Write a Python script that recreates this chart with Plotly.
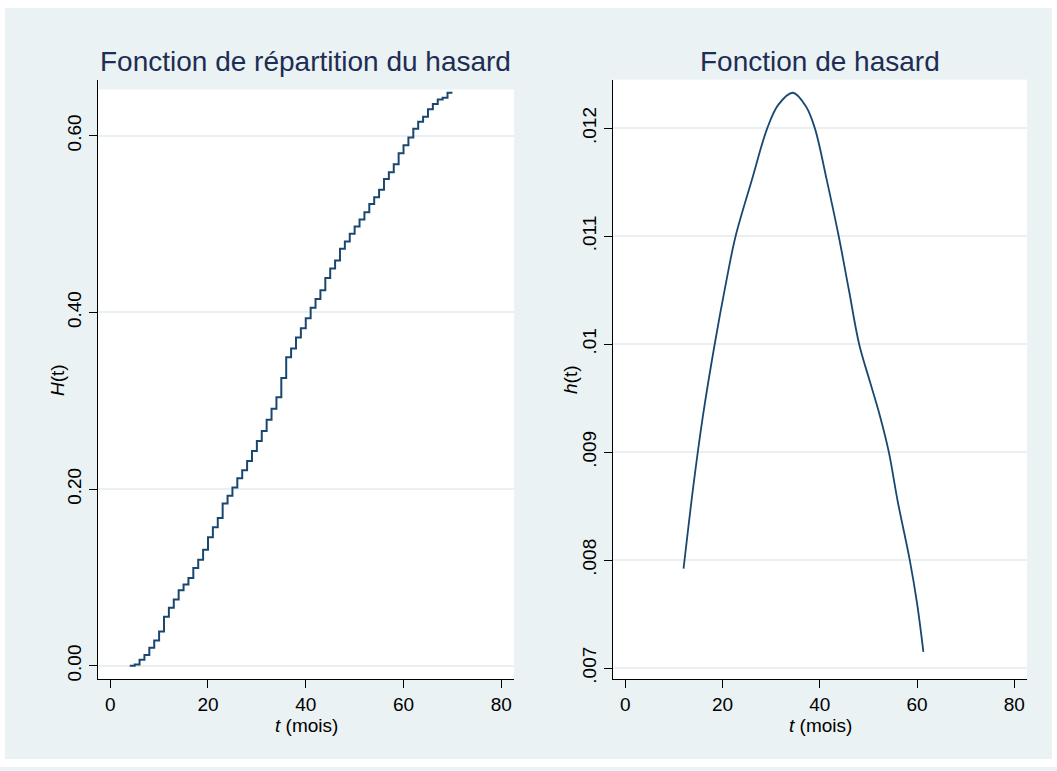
import plotly.graph_objects as go

# ---------------- data ----------------
# Left panel: cumulative hazard H(t), step function with jumps at integer months
months = list(range(4, 71))
H_values = [
    0.0, 0.0015, 0.0068, 0.0124, 0.0206, 0.0288, 0.039, 0.0555, 0.0657, 0.075,
    0.0856, 0.092, 0.0994, 0.1107, 0.12, 0.1313, 0.1456, 0.1569, 0.1674, 0.1839,
    0.1926, 0.2019, 0.2124, 0.2214, 0.232, 0.2432, 0.2545, 0.2658, 0.2785, 0.291,
    0.304, 0.3258, 0.3494, 0.3592, 0.3716, 0.3821, 0.3934, 0.4054, 0.4151, 0.4252,
    0.439, 0.4497, 0.4587, 0.4722, 0.4804, 0.4891, 0.4973, 0.5052, 0.5135, 0.5229,
    0.5304, 0.539, 0.551, 0.5586, 0.5679, 0.5803, 0.5893, 0.598, 0.608, 0.616,
    0.6216, 0.63, 0.636, 0.641, 0.643, 0.6486,
]
H_plot = H_values + [H_values[-1]]  # hold last value until t=70

# Right panel: smoothed hazard h(t)
t_h = [12.0, 14.0, 16.0, 18.4, 20.9, 22.7, 26.1, 29.2, 31.5, 34.5, 37.2,
       39.0, 41.4, 43.9, 46.0, 48.1, 50.4, 52.4, 54.2, 56.0, 58.5, 60.0, 61.3]
h_values = [0.00792, 0.00868, 0.00934, 0.0100, 0.01061, 0.0110, 0.01153, 0.0120,
            0.01222, 0.01233, 0.01220, 0.0120, 0.01153, 0.0110, 0.0105, 0.0100,
            0.00964, 0.00933, 0.0090, 0.00855, 0.0080, 0.0076, 0.00715]

x_ticks = [0, 20, 40, 60, 80]
left_y_ticks = [0.0, 0.2, 0.4, 0.6]
left_y_labels = ["0.00", "0.20", "0.40", "0.60"]
right_y_ticks = [0.007, 0.008, 0.009, 0.010, 0.011, 0.012]
right_y_labels = [".007", ".008", ".009", ".01", ".011", ".012"]

# ---------------- style ----------------
W, H = 1057, 771
BG = "#EAF2F3"
LINE = "#1a476f"
TITLE_C = "#1e2d53"
FONT = "Liberation Sans, Arial, Helvetica, sans-serif"

def px_x(p):
    return p / W

def px_y(p):
    return 1 - p / H

fig = go.Figure()
fig.add_trace(go.Scatter(x=months, y=H_plot, mode="lines", line=dict(color=LINE, width=2, shape="hv"),
                         xaxis="x", yaxis="y", showlegend=False, hoverinfo="skip"))
fig.add_trace(go.Scatter(x=t_h, y=h_values, mode="lines",
                         line=dict(color=LINE, width=1.8, shape="spline", smoothing=1.0),
                         xaxis="x2", yaxis="y2", showlegend=False, hoverinfo="skip"))

common_x = dict(range=[-2.5, 82.6], tickvals=x_ticks, showgrid=False, zeroline=False,
                showline=True, linecolor="black", linewidth=1, ticks="outside", ticklen=8,
                tickwidth=1, tickcolor="black", tickfont=dict(family=FONT, size=19, color="black"))
common_y = dict(showgrid=True, gridcolor="#E8F0F2", gridwidth=1.5, zeroline=False,
                showline=True, linecolor="black", linewidth=1, ticks="outside", ticklen=8,
                tickwidth=1, tickcolor="black", tickangle=-90,
                tickfont=dict(family=FONT, size=19, color="black"))

y_dom = [px_y(683), px_y(80)]
fig.update_layout(
    width=W, height=H,
    margin=dict(l=0, r=0, t=0, b=0, pad=0),
    paper_bgcolor=BG, plot_bgcolor="white",
    font=dict(family=FONT, color="black"),
    xaxis=dict(domain=[px_x(98), px_x(514)], anchor="y", **common_x),
    yaxis=dict(domain=y_dom, anchor="x", range=[-0.0154, 0.6636],
               tickvals=left_y_ticks, ticktext=left_y_labels, **common_y),
    xaxis2=dict(domain=[px_x(613), px_x(1027)], anchor="y2", **common_x),
    yaxis2=dict(domain=y_dom, anchor="x2", range=[0.006894, 0.012452],
                tickvals=right_y_ticks, ticktext=right_y_labels, **common_y),
)

ann = []
ann.append(dict(text="Fonction de répartition du hasard", x=px_x(305), y=px_y(62), xref="paper", yref="paper",
                showarrow=False, font=dict(family=FONT, size=28, color=TITLE_C), xanchor="center", yanchor="middle"))
ann.append(dict(text="Fonction de hasard", x=px_x(820), y=px_y(62), xref="paper", yref="paper",
                showarrow=False, font=dict(family=FONT, size=28, color=TITLE_C), xanchor="center", yanchor="middle"))
ann.append(dict(text="<i>t</i> (mois)", x=px_x(306), y=px_y(729), xref="paper", yref="paper",
                showarrow=False, font=dict(family=FONT, size=19, color="black"), xanchor="center", yanchor="middle"))
ann.append(dict(text="<i>t</i> (mois)", x=px_x(820), y=px_y(729), xref="paper", yref="paper",
                showarrow=False, font=dict(family=FONT, size=19, color="black"), xanchor="center", yanchor="middle"))
ann.append(dict(text="<i>H</i>(t)", x=px_x(57), y=px_y(382), xref="paper", yref="paper", textangle=-90,
                showarrow=False, font=dict(family=FONT, size=19, color="black"), xanchor="center", yanchor="middle"))
ann.append(dict(text="<i>h</i>(t)", x=px_x(570), y=px_y(382), xref="paper", yref="paper", textangle=-90,
                showarrow=False, font=dict(family=FONT, size=19, color="black"), xanchor="center", yanchor="middle"))
fig.update_layout(annotations=ann)

shapes = []
# white outer border around the graph background
for x0, y0, x1, y1 in [(0, 0, W, 8), (0, 763, W, H), (0, 0, 5, H), (1052, 0, W, H)]:
    shapes.append(dict(type="rect", xref="paper", yref="paper", x0=px_x(x0), x1=px_x(x1),
                       y0=px_y(y1), y1=px_y(y0), fillcolor="white", line=dict(width=0), layer="above"))
# top strip of left plot region in background colour
shapes.append(dict(type="rect", xref="paper", yref="paper", x0=px_x(98.8), x1=px_x(514.5),
                   y0=px_y(90), y1=px_y(79.5), fillcolor=BG, line=dict(width=0), layer="above"))
fig.update_layout(shapes=shapes)

fig.write_html("out.html")
